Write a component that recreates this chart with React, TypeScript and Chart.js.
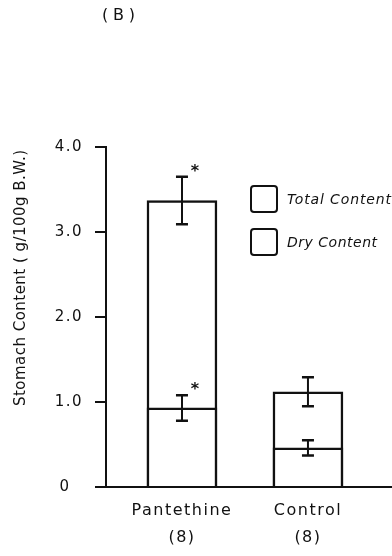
import React, { useEffect, useRef } from 'react';
import { Chart, registerables } from 'chart.js';
Chart.register(...registerables);

const categories = ['Pantethine', 'Control'];
const groupSizes = ['(8)', '(8)'];
const xPositions = [1, 2];
const totalContent = [3.37, 1.12];
const totalErr = [0.28, 0.17];
const dryContent = [0.93, 0.46];
const dryErr = [0.15, 0.09];
const totalSig = [true, false];
const drySig = [true, false];
const yTicks = [0, 1, 2, 3, 4];
const yTickLabels = ['0  ', '1.0', '2.0', '3.0', '4.0'];
const seriesLabels = ['Total Content', 'Dry Content'];
const panelLabel = '(B)';
const yTitle = 'Stomach Content ( g/100g B.W.)';

const FONT = '"DejaVu Sans", sans-serif';

function spacedText(ctx: CanvasRenderingContext2D, text: string, x: number, y: number, targetWidth: number | null, spacing = 0) {
  (ctx as any).letterSpacing = '0px';
  let sp = spacing;
  if (targetWidth !== null) {
    const w = ctx.measureText(text).width;
    sp = (targetWidth - w) / Math.max(1, text.length - 1);
  }
  (ctx as any).letterSpacing = sp + 'px';
  ctx.fillText(text, x, y);
  (ctx as any).letterSpacing = '0px';
}

const overlayPlugin = {
  id: 'overlay',
  beforeDraw(chart: any) {
    (chart.ctx as any).letterSpacing = '1.5px';
  },
  afterDatasetsDraw(chart: any) {
    const ctx: CanvasRenderingContext2D = chart.ctx;
    const xs = chart.scales.x;
    const ys = chart.scales.y;
    ctx.save();
    (ctx as any).letterSpacing = '0px';
    ctx.strokeStyle = '#111';
    const series = [
      { mean: totalContent, err: totalErr, sig: totalSig },
      { mean: dryContent, err: dryErr, sig: drySig },
    ];
    series.forEach((s) => {
      xPositions.forEach((xv, i) => {
        const x = xs.getPixelForValue(xv);
        const yT = ys.getPixelForValue(s.mean[i] + s.err[i]);
        const yB = ys.getPixelForValue(s.mean[i] - s.err[i]);
        ctx.lineWidth = 2;
        ctx.beginPath();
        ctx.moveTo(x, yT);
        ctx.lineTo(x, yB);
        ctx.stroke();
        ctx.lineWidth = 2.5;
        ctx.beginPath();
        ctx.moveTo(x - 6, yT);
        ctx.lineTo(x + 6, yT);
        ctx.moveTo(x - 6, yB);
        ctx.lineTo(x + 6, yB);
        ctx.stroke();
        if (s.sig[i]) {
          ctx.fillStyle = '#111';
          ctx.font = 'bold 16px ' + FONT;
          ctx.textAlign = 'center';
          ctx.textBaseline = 'middle';
          ctx.fillText('*', x + 13, yT - 5);
        }
      });
    });
    ctx.restore();
  },
  afterDraw(chart: any) {
    const ctx: CanvasRenderingContext2D = chart.ctx;
    ctx.save();
    ctx.fillStyle = '#111';
    ctx.strokeStyle = '#111';
    // panel label
    ctx.font = '16px ' + FONT;
    ctx.textAlign = 'left';
    ctx.textBaseline = 'middle';
    spacedText(ctx, panelLabel, 102, 16, 33);
    // y title
    ctx.save();
    ctx.translate(21, 278);
    ctx.rotate(-Math.PI / 2);
    ctx.font = '15px ' + FONT;
    ctx.textAlign = 'left';
    ctx.textBaseline = 'middle';
    spacedText(ctx, yTitle, -128, 0, 256);
    ctx.restore();
    // legend
    const boxes = [186, 229];
    const widths = [104, 90];
    seriesLabels.forEach((lab, i) => {
      const y = boxes[i];
      ctx.lineWidth = 2;
      ctx.beginPath();
      (ctx as any).roundRect(251, y, 26, 26, 3);
      ctx.stroke();
      ctx.font = 'italic 14px ' + FONT;
      ctx.textAlign = 'left';
      ctx.textBaseline = 'middle';
      spacedText(ctx, lab, 287, y + 14, widths[i]);
    });
    ctx.restore();
  },
};

export default function App() {
  const ref = useRef<HTMLCanvasElement>(null);
  useEffect(() => {
    const chart = new Chart(ref.current as HTMLCanvasElement, {
      type: 'bar',
      data: {
        datasets: [
          {
            label: seriesLabels[0],
            data: xPositions.map((x, i) => ({ x, y: totalContent[i] })),
            backgroundColor: '#fff',
            borderColor: '#111',
            borderWidth: 2.5,
            barThickness: 70,
            grouped: false,
            order: 2,
          } as any,
          {
            label: seriesLabels[1],
            data: xPositions.map((x, i) => ({ x, y: dryContent[i] })),
            backgroundColor: '#fff',
            borderColor: '#111',
            borderWidth: 2.5,
            barThickness: 70,
            grouped: false,
            order: 1,
          } as any,
        ],
      },
      options: {
        animation: false,
        responsive: false,
        devicePixelRatio: 1,
        layout: { padding: { top: 147, left: 0, right: 0, bottom: 0 } },
        plugins: { legend: { display: false }, tooltip: { enabled: false }, title: { display: false } },
        scales: {
          x: {
            type: 'linear',
            min: 0.397,
            max: 2.667,
            offset: false,
            grid: { display: false, drawTicks: false, offset: false },
            border: { display: true, color: '#111', width: 2 },
            ticks: {
              color: '#111',
              padding: 10,
              font: { family: FONT, size: 16, lineHeight: 1.7 },
              callback: (_v: any, i: number) => [categories[i], groupSizes[i]],
            },
            afterBuildTicks: (s: any) => {
              s.ticks = xPositions.map((v) => ({ value: v }));
            },
            afterFit: (s: any) => {
              s.height = 69;
            },
          },
          y: {
            min: 0,
            max: 4,
            grid: { drawOnChartArea: false, drawTicks: true, tickLength: 11, color: '#111', lineWidth: 2 },
            border: { display: true, color: '#111', width: 2 },
            ticks: {
              color: '#111',
              padding: 12,
              font: { family: FONT, size: 15 },
              callback: (_v: any, i: number) => yTickLabels[i],
            },
            afterBuildTicks: (s: any) => {
              s.ticks = yTicks.map((v) => ({ value: v }));
            },
            afterFit: (s: any) => {
              s.width = 106;
            },
          },
        },
      } as any,
      plugins: [overlayPlugin],
    });
    return () => chart.destroy();
  }, []);
  return (
    <div style={{ position: 'absolute', left: 0, top: 0, width: 392, height: 556, background: '#fff' }}>
      <canvas ref={ref} width={392} height={556} style={{ display: 'block', width: 392, height: 556 }} />
    </div>
  );
}
